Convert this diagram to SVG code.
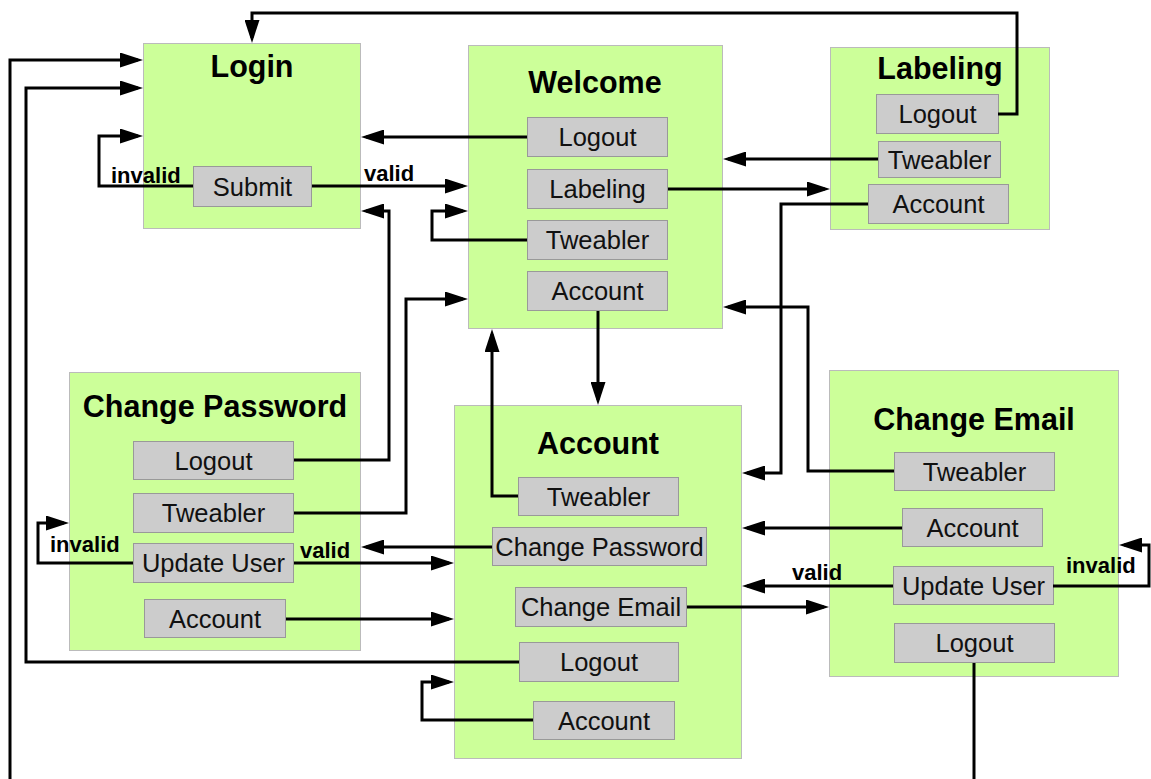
<svg xmlns="http://www.w3.org/2000/svg" width="1151" height="779" viewBox="0 0 1151 779">
  <style>
    .page { fill: #ccff99; stroke: #bbbbbb; stroke-width: 1; }
    .btn { fill: #cccccc; stroke: #999999; stroke-width: 1; }
    .title { font-family: "Liberation Sans", Arial, sans-serif; font-weight: bold; font-size: 30.5px; fill: #000; text-anchor: middle; }
    .lbl { font-family: "Liberation Sans", Arial, sans-serif; font-size: 25.5px; fill: #111; text-anchor: middle; }
    .cond { font-family: "Liberation Sans", Arial, sans-serif; font-weight: bold; font-size: 22px; fill: #000; }
    .link { fill: none; stroke: #000; stroke-width: 3; stroke-linejoin: miter; }
    .arr { marker-end: url(#head); }
  </style>
  <defs>
    <marker id="head" viewBox="0 0 23 15" refX="18" refY="7.5" markerWidth="23" markerHeight="15" markerUnits="userSpaceOnUse" orient="auto">
      <path d="M0,0 L23,7.5 L0,15 Z" fill="#000"/>
    </marker>
  </defs>
  <rect width="1151" height="779" fill="#ffffff"/>

  <!-- Login page -->
  <g id="login">
    <rect class="page" x="143.5" y="43.5" width="217" height="185"/>
    <text class="title" x="252" y="77">Login</text>
    <rect class="btn" x="193.5" y="166.5" width="118" height="40"/>
    <text class="lbl" x="252.5" y="195.5">Submit</text>
  </g>

  <!-- Welcome page -->
  <g id="welcome">
    <rect class="page" x="468.5" y="45.5" width="254" height="283"/>
    <text class="title" x="595" y="92.5">Welcome</text>
    <rect class="btn" x="527.5" y="117.5" width="140" height="39"/>
    <text class="lbl" x="597.5" y="146">Logout</text>
    <rect class="btn" x="527.5" y="169.5" width="140" height="39"/>
    <text class="lbl" x="597.5" y="198">Labeling</text>
    <rect class="btn" x="527.5" y="220.5" width="140" height="39"/>
    <text class="lbl" x="597.5" y="249">Tweabler</text>
    <rect class="btn" x="527.5" y="271.5" width="140" height="39"/>
    <text class="lbl" x="597.5" y="300">Account</text>
  </g>

  <!-- Labeling page -->
  <g id="labeling">
    <rect class="page" x="830.5" y="47.5" width="219" height="182"/>
    <text class="title" x="940" y="78.5">Labeling</text>
    <rect class="btn" x="876.5" y="94.5" width="122" height="39"/>
    <text class="lbl" x="937.5" y="123">Logout</text>
    <rect class="btn" x="878.5" y="141.5" width="122" height="36"/>
    <text class="lbl" x="939.5" y="168.5">Tweabler</text>
    <rect class="btn" x="868.5" y="184.5" width="140" height="39"/>
    <text class="lbl" x="938.5" y="213">Account</text>
  </g>

  <!-- Change Password page -->
  <g id="change-password">
    <rect class="page" x="69.5" y="372.5" width="291" height="278"/>
    <text class="title" x="215" y="416.5">Change Password</text>
    <rect class="btn" x="133.5" y="441.5" width="160" height="38"/>
    <text class="lbl" x="213.5" y="469.5">Logout</text>
    <rect class="btn" x="133.5" y="493.5" width="160" height="39"/>
    <text class="lbl" x="213.5" y="522">Tweabler</text>
    <rect class="btn" x="133.5" y="543.5" width="160" height="39"/>
    <text class="lbl" x="213.5" y="572">Update User</text>
    <rect class="btn" x="144.5" y="599.5" width="141" height="38"/>
    <text class="lbl" x="215" y="627.5">Account</text>
  </g>

  <!-- Account page -->
  <g id="account">
    <rect class="page" x="454.5" y="405.5" width="287" height="353"/>
    <text class="title" x="598" y="453.5">Account</text>
    <rect class="btn" x="518.5" y="477.5" width="160" height="38"/>
    <text class="lbl" x="598.5" y="505.5">Tweabler</text>
    <rect class="btn" x="492.5" y="527.5" width="214" height="38"/>
    <text class="lbl" x="599.5" y="555.5">Change Password</text>
    <rect class="btn" x="515.5" y="587.5" width="171" height="39"/>
    <text class="lbl" x="601" y="616">Change Email</text>
    <rect class="btn" x="519.5" y="642.5" width="159" height="39"/>
    <text class="lbl" x="599" y="671">Logout</text>
    <rect class="btn" x="533.5" y="701.5" width="141" height="38"/>
    <text class="lbl" x="604" y="729.5">Account</text>
  </g>

  <!-- Change Email page -->
  <g id="change-email">
    <rect class="page" x="829.5" y="370.5" width="289" height="306"/>
    <text class="title" x="974" y="430">Change Email</text>
    <rect class="btn" x="894.5" y="452.5" width="160" height="38"/>
    <text class="lbl" x="974.5" y="480.5">Tweabler</text>
    <rect class="btn" x="902.5" y="508.5" width="140" height="38"/>
    <text class="lbl" x="972.5" y="536.5">Account</text>
    <rect class="btn" x="893.5" y="566.5" width="160" height="38"/>
    <text class="lbl" x="973.5" y="594.5">Update User</text>
    <rect class="btn" x="894.5" y="623.5" width="160" height="39"/>
    <text class="lbl" x="974.5" y="652">Logout</text>
  </g>

  <!-- Navigation links between pages -->
  <g id="connectors">
    <path class="link arr" d="M998,114 H1017 V13 H252 V38"/>
    <path class="link arr" d="M10,779 V60 H138"/>
    <path class="link arr" d="M519,662 H26 V88 H138"/>
    <path class="link arr" d="M193,186 H99 V136 H138"/>
    <path class="link arr" d="M312,186 H463"/>
    <path class="link arr" d="M527,137 H366"/>
    <path class="link arr" d="M294,460 H389 V211 H366"/>
    <path class="link arr" d="M527,240 H432 V211 H463"/>
    <path class="link arr" d="M294,513 H406 V299 H463"/>
    <path class="link arr" d="M878,159 H728"/>
    <path class="link arr" d="M668,189 H825"/>
    <path class="link arr" d="M868,204 H781 V473 H747"/>
    <path class="link arr" d="M894,471 H808 V307 H728"/>
    <path class="link arr" d="M598,311 V400"/>
    <path class="link arr" d="M518,496 H492 V334"/>
    <path class="link arr" d="M133,563 H38 V523 H64"/>
    <path class="link arr" d="M492,547 H366"/>
    <path class="link arr" d="M294,563 H449"/>
    <path class="link arr" d="M286,619 H449"/>
    <path class="link arr" d="M533,720 H422 V682 H449"/>
    <path class="link arr" d="M687,607 H824"/>
    <path class="link arr" d="M902,528 H747"/>
    <path class="link arr" d="M893,586 H747"/>
    <path class="link arr" d="M1053,586 H1149 V545 H1124"/>
    <path class="link" d="M974,663 V779"/>

    <text class="cond" x="111" y="183">invalid</text>
    <text class="cond" x="364" y="181">valid</text>
    <text class="cond" x="50" y="552">invalid</text>
    <text class="cond" x="300" y="558">valid</text>
    <text class="cond" x="792" y="580">valid</text>
    <text class="cond" x="1066" y="573">invalid</text>
  </g>
</svg>
